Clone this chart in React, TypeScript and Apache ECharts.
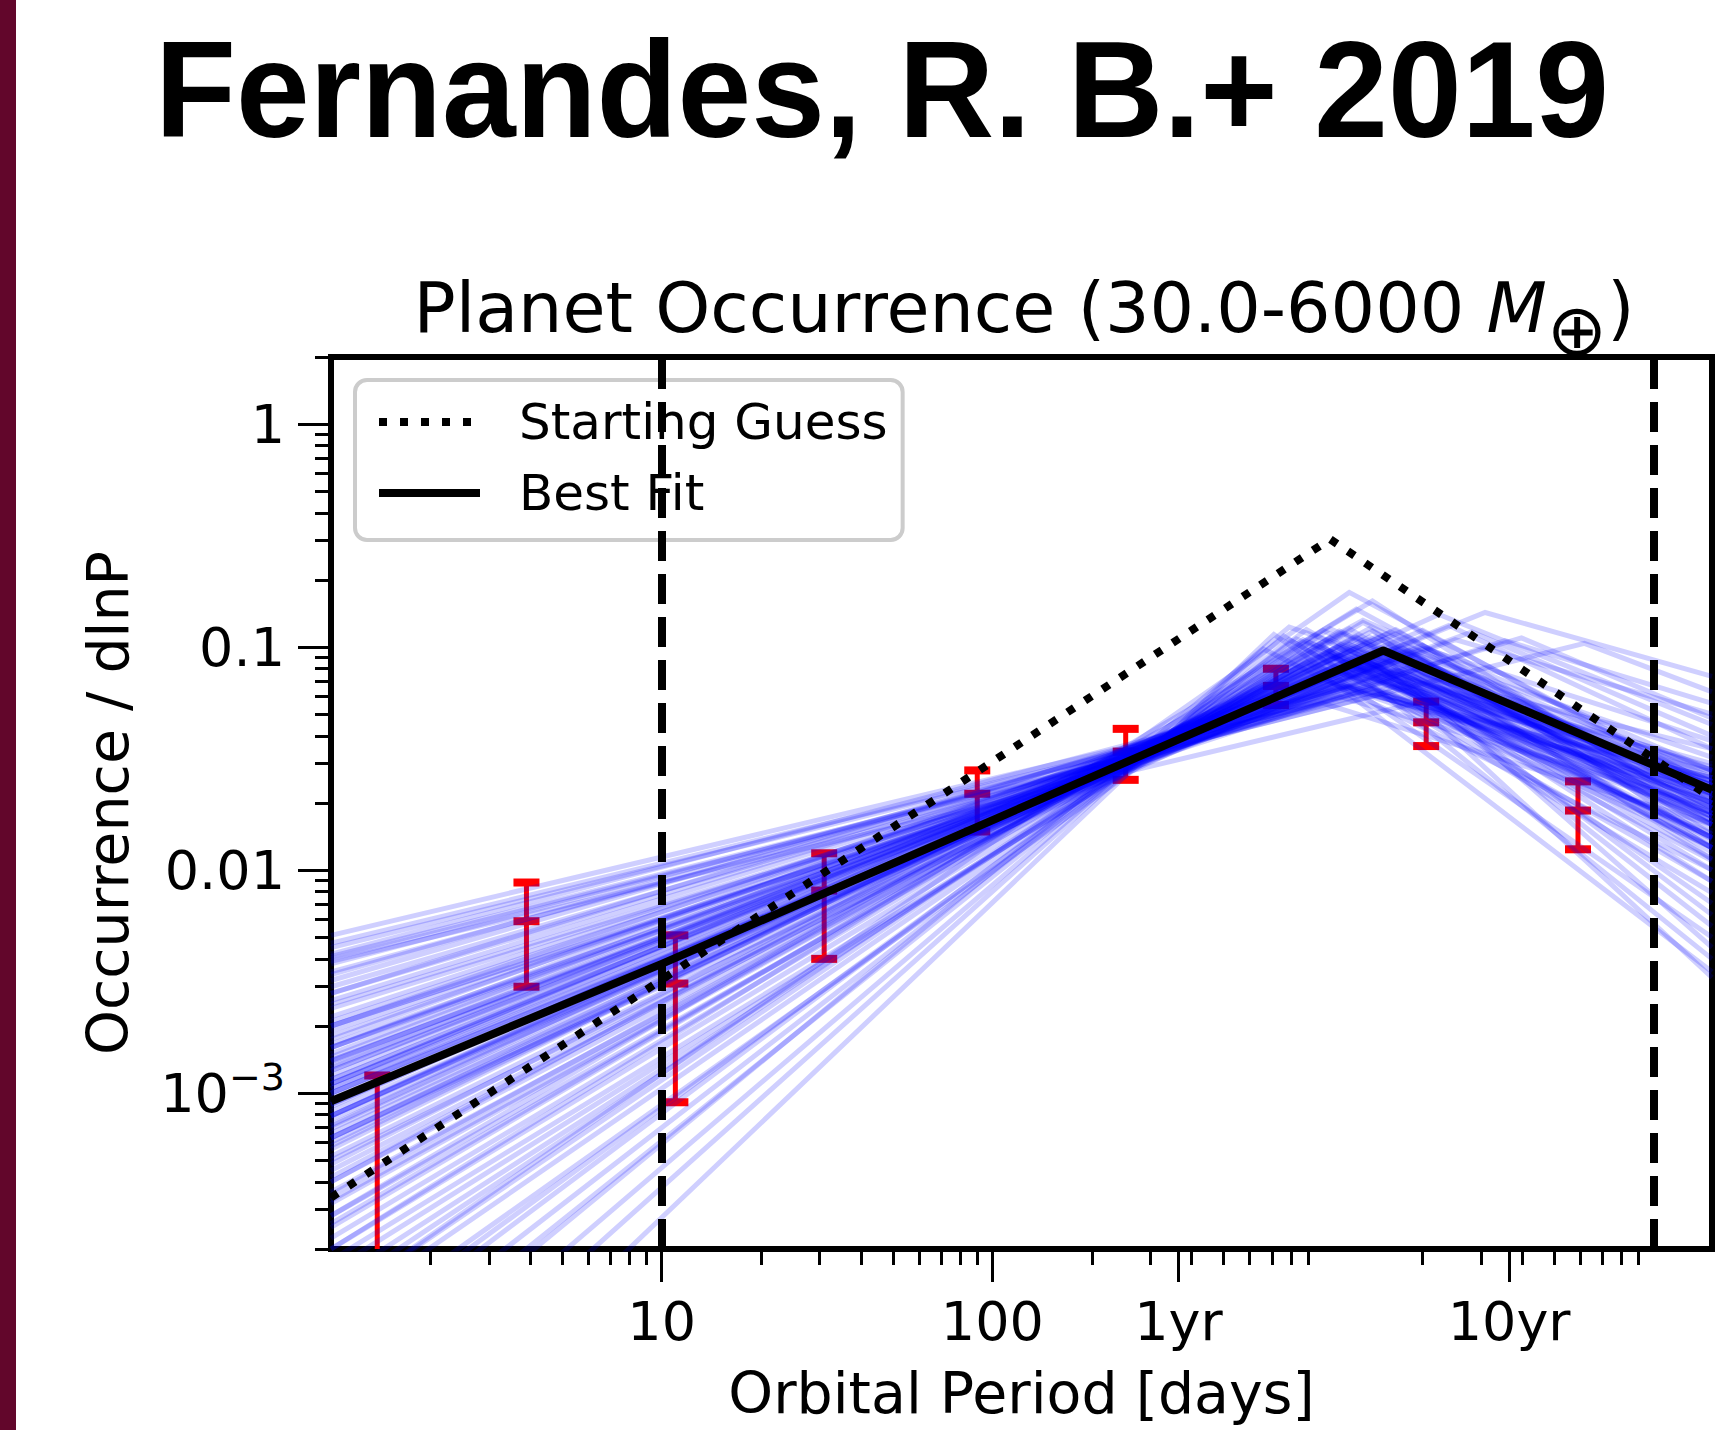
import React, { useEffect, useRef } from 'react';
import * as echarts from 'echarts';

// ---------- axis ranges & ticks ----------
const X_MIN = 1;
const X_MAX = 15000;
const Y_MIN = 0.0002;
const Y_MAX = 2;

const xMajorTicks = [10, 100, 365.25, 3652.5];
const xMajorLabels = ['10', '100', '1yr', '10yr'];
const yMajorTicks = [1, 0.1, 0.01, 0.001];
const yMajorLabels = ['1', '0.1', '0.01', '{b|10}{s|\u22123}'];

// ---------- model curves ----------
const startGuessPeriod = [1, 1050, 15000];
const startGuessOcc = [0.00034, 0.305, 0.021];
const bestFitPeriod = [1, 10, 1520, 15000];
const bestFitOcc = [0.00092, 0.0038, 0.0966, 0.0229];

// ---------- binned occurrence with errors ----------
const binPeriod = [1.38, 3.9, 11.0, 31, 90, 253, 720, 2050, 5900];
const binOcc = [0.00012, 0.0059, 0.0031, 0.0081, 0.022, 0.034, 0.067, 0.046, 0.0185];
const binLow = [0.00001, 0.003, 0.00091, 0.004, 0.0149, 0.0254, 0.055, 0.036, 0.0124];
const binHigh = [0.0012, 0.0088, 0.0051, 0.0119, 0.028, 0.043, 0.08, 0.057, 0.025];

// ---------- period boundaries (dashed) ----------
const dividerPeriods = [10, 10000];

// ---------- posterior samples (value at P=1, break, value at P=15000) ----------
const sampleOccAtMin = [
  0.00089, 0.0013, 0.00063, 0.0016, 0.0005, 0.0011, 0.00079, 0.0014, 0.00071, 0.0018,
  0.0004, 0.002, 0.001, 0.00056, 0.00132, 0.00045, 0.0022, 0.00089, 0.0012, 0.00066,
  0.00166, 0.00035, 0.00105, 0.0025, 0.00076, 0.00032, 0.0015, 0.0006, 0.0011, 0.00083,
  0.0051, 0.0047, 0.0042, 0.0038, 0.0034, 0.003, 0.0028, 0.0035,
  0.0000107, 0.000025, 0.00005, 0.000079, 0.000112, 0.000141, 0.000178, 0.000224, 0.000282,
  0.0000355, 0.00025, 0.00016, 0.000063, 0.0000178,
  0.000112, 0.0002, 0.000282, 0.0004,
  0.00115, 0.0041, 0.0014, 0.00079, 0.002,
  0.001, 0.0039, 0.00063,
  0.0021, 0.00052, 0.00138, 0.00095, 0.00072, 0.0019, 0.00042, 0.00115, 0.00087, 0.0026,
  0.00069, 0.00126, 0.00058, 0.00174, 0.00036, 0.00105, 0.00079, 0.00145, 0.00063, 0.0024,
  0.00048, 0.0011, 0.00091, 0.0016,
  0.0045, 0.0032, 0.004,
  0.0001, 0.0002, 0.00004, 0.00026, 0.000126, 0.000071, 0.00033,
  0.0016, 0.001, 0.0028, 0.00126,
  0.00079, 0.002,
];
const sampleBreakPeriod = [
  1410, 1260, 1120, 1580, 1260, 1780, 1200, 1510, 1580, 1320,
  1050, 1660, 1900, 1410, 1380, 1200, 1120, 2000, 1000, 1510,
  1660, 955, 1320, 1445, 1740, 1000, 1260, 1120, 1150, 1820,
  1120, 1000, 1260, 1410, 1200, 1580, 1320, 1780,
  710, 760, 890, 955, 1000, 1120, 890, 1200, 1120,
  790, 1050, 1320, 830, 660,
  1200, 1260, 1410, 1320,
  3090, 6170, 2510, 2240, 3550,
  1580, 1900, 1410,
  1380, 1150, 1660, 1260, 1445, 1820, 1100, 1510, 1320, 1200,
  1580, 1000, 1380, 1740, 1200, 1445, 1050, 1320, 1660, 1260,
  1260, 2000, 1150, 1510,
  1320, 1150, 1580,
  912, 1000, 790, 1150, 1050, 870, 1380,
  2820, 2400, 3980, 2000,
  1320, 1660,
];
const sampleBreakOcc = [
  0.097, 0.086, 0.084, 0.097, 0.091, 0.097, 0.099, 0.077, 0.116, 0.075,
  0.092, 0.089, 0.093, 0.118, 0.084, 0.097, 0.067, 0.102, 0.08, 0.108,
  0.079, 0.094, 0.091, 0.066, 0.103, 0.094, 0.081, 0.092, 0.086, 0.097,
  0.06, 0.056, 0.068, 0.065, 0.067, 0.071, 0.076, 0.069,
  0.114, 0.112, 0.12, 0.107, 0.119, 0.118, 0.086, 0.121, 0.101,
  0.123, 0.11, 0.129, 0.109, 0.098,
  0.176, 0.148, 0.161, 0.132,
  0.143, 0.104, 0.108, 0.14, 0.107,
  0.086, 0.056, 0.087,
  0.073, 0.092, 0.095, 0.08, 0.111, 0.081, 0.1, 0.09, 0.102, 0.066,
  0.1, 0.071, 0.111, 0.099, 0.103, 0.08, 0.08, 0.087, 0.12, 0.063,
  0.111, 0.119, 0.079, 0.076,
  0.062, 0.067, 0.063,
  0.105, 0.1, 0.108, 0.115, 0.121, 0.108, 0.121,
  0.117, 0.125, 0.11, 0.099,
  0.087, 0.072,
];
const sampleOccAtMax = [
  0.022, 0.025, 0.0166, 0.028, 0.014, 0.02, 0.024, 0.018, 0.021, 0.026,
  0.0126, 0.019, 0.032, 0.015, 0.035, 0.02, 0.023, 0.013, 0.0275, 0.0112,
  0.0214, 0.024, 0.0174, 0.018, 0.026, 0.019, 0.0138, 0.022, 0.03, 0.0145,
  0.019, 0.016, 0.022, 0.0126, 0.025, 0.018, 0.014, 0.0063,
  0.005, 0.0079, 0.0112, 0.004, 0.016, 0.025, 0.0035, 0.0126, 0.018,
  0.028, 0.01, 0.021, 0.014, 0.01,
  0.024, 0.02, 0.0166, 0.028,
  0.074, 0.063, 0.05, 0.045, 0.056,
  0.0045, 0.0033, 0.0056,
  0.02, 0.024, 0.0166, 0.0275, 0.019, 0.023, 0.016, 0.012, 0.025, 0.021,
  0.0174, 0.026, 0.022, 0.0138, 0.02, 0.029, 0.0145, 0.024, 0.018, 0.026,
  0.0126, 0.023, 0.02, 0.016,
  0.0174, 0.022, 0.011,
  0.0174, 0.0126, 0.0089, 0.023, 0.019, 0.014, 0.016,
  0.04, 0.035, 0.048, 0.038,
  0.0071, 0.0089,
];

const FONT = '"DejaVu Sans", sans-serif';
const lg = (v: number) => Math.log10(v);

function minorTicks(lo: number, hi: number): number[] {
  const out: number[] = [];
  for (let k = -5; k <= 5; k++) {
    for (let m = 2; m <= 9; m++) {
      const v = m * Math.pow(10, k);
      if (v >= lo * 0.9999 && v <= hi * 1.0001) out.push(lg(v));
    }
  }
  return out;
}

function labelFor(ticks: number[], labels: string[]) {
  return (v: number) => {
    const i = ticks.findIndex((t) => Math.abs(lg(t) - v) < 1e-6);
    return i >= 0 ? labels[i] : '';
  };
}

function buildOption(): any {
  const tickLine = { color: '#000', width: 3 };

  const sampleSeries = sampleOccAtMin.map((v0, i) => ({
    name: 'posterior sample ' + (i + 1),
    type: 'line',
    xAxisIndex: 0,
    yAxisIndex: 0,
    symbol: 'none',
    silent: true,
    clip: true,
    z: 3,
    lineStyle: { color: '#0000ff', width: 5, opacity: 0.19, join: 'miter' },
    emphasis: { disabled: true },
    data: [
      [lg(X_MIN), lg(v0)],
      [lg(sampleBreakPeriod[i]), lg(sampleBreakOcc[i])],
      [lg(X_MAX), lg(sampleOccAtMax[i])],
    ],
  }));

  return {
    animation: false,
    backgroundColor: '#ffffff',
    title: [
      {
        text: '{n|Planet Occurrence (30.0-6000 }{i|M}{s|\u2295}{n|)}',
        left: 1024,
        top: 273,
        textAlign: 'center',
        padding: 0,
        textStyle: {
          fontFamily: FONT,
          fontSize: 70,
          fontWeight: 'normal',
          color: '#000',
          rich: {
            n: { fontFamily: FONT, fontSize: 70, lineHeight: 70, color: '#000', verticalAlign: 'top' },
            i: { fontFamily: FONT, fontSize: 70, lineHeight: 70, fontStyle: 'italic', color: '#000', verticalAlign: 'top' },
            s: { fontFamily: FONT, fontSize: 72, lineHeight: 72, color: '#000', verticalAlign: 'top', padding: [21, 0, 0, 0] },
          },
        },
      },
    ],
    graphic: [
      { type: 'rect', left: 0, top: 0, shape: { x: 0, y: 0, width: 16, height: 1430 }, style: { fill: '#62062b' }, silent: true },
      {
        type: 'text',
        x: 882,
        y: 90,
        scaleX: 0.96,
        silent: true,
        style: {
          text: 'Fernandes, R. B.+ 2019',
          font: 'bold 138px "Liberation Sans", Arial, sans-serif',
          fill: '#000',
          align: 'center',
          verticalAlign: 'middle',
        },
      },
    ],
    legend: {
      data: ['Starting Guess', 'Best Fit'],
      orient: 'vertical',
      left: 355,
      top: 380,
      padding: [17, 15, 22, 20],
      itemWidth: 101,
      itemHeight: 20,
      itemGap: 21,
      selectedMode: false,
      backgroundColor: 'rgba(255,255,255,0.8)',
      borderColor: '#cccccc',
      borderWidth: 4,
      borderRadius: 12,
      itemStyle: { opacity: 0, borderWidth: 0 },
      lineStyle: { width: 8, type: 'inherit', cap: 'butt' },
      textStyle: { fontFamily: FONT, fontSize: 50, lineHeight: 50, color: '#000', padding: [0, 0, 0, 34] },
    },
    grid: {
      left: 331,
      top: 357,
      right: 17,
      bottom: 181,
      show: true,
      borderColor: '#000',
      borderWidth: 6,
      backgroundColor: 'transparent',
      containLabel: false,
      outerBoundsMode: 'none',
    },
    xAxis: [
      {
        type: 'value',
        min: lg(X_MIN),
        max: lg(X_MAX),
        position: 'bottom',
        axisLine: { show: false, onZero: false },
        splitLine: { show: false },
        axisTick: { show: true, customValues: xMajorTicks.map(lg), length: 33, lineStyle: tickLine },
        axisLabel: {
          show: true,
          customValues: xMajorTicks.map(lg),
          formatter: labelFor(xMajorTicks, xMajorLabels),
          fontFamily: FONT,
          fontSize: 54,
          color: '#000',
          margin: 45,
        },
        name: 'Orbital Period [days]',
        nameLocation: 'middle',
        nameGap: 115,
        nameTextStyle: { fontFamily: FONT, fontSize: 57, color: '#000' },
      },
      {
        type: 'value',
        min: lg(X_MIN),
        max: lg(X_MAX),
        position: 'bottom',
        axisLine: { show: false, onZero: false },
        splitLine: { show: false },
        axisLabel: { show: false },
        axisTick: { show: true, customValues: minorTicks(X_MIN, X_MAX), length: 16, lineStyle: tickLine },
      },
    ],
    yAxis: [
      {
        type: 'value',
        min: lg(Y_MIN),
        max: lg(Y_MAX),
        position: 'left',
        axisLine: { show: false, onZero: false },
        splitLine: { show: false },
        axisTick: { show: true, customValues: yMajorTicks.map(lg), length: 33, lineStyle: tickLine },
        axisLabel: {
          show: true,
          customValues: yMajorTicks.map(lg),
          formatter: labelFor(yMajorTicks, yMajorLabels),
          fontFamily: FONT,
          fontSize: 54,
          color: '#000',
          margin: 46,
          rich: {
            b: { fontFamily: FONT, fontSize: 54, color: '#000' },
            s: { fontFamily: FONT, fontSize: 38, color: '#000', padding: [0, 0, 32, 0] },
          },
        },
        name: 'Occurrence / dlnP',
        nameLocation: 'middle',
        nameRotate: 90,
        nameGap: 195,
        nameTextStyle: { fontFamily: FONT, fontSize: 57, color: '#000' },
      },
      {
        type: 'value',
        min: lg(Y_MIN),
        max: lg(Y_MAX),
        position: 'left',
        axisLine: { show: false, onZero: false },
        splitLine: { show: false },
        axisLabel: { show: false },
        axisTick: { show: true, customValues: minorTicks(Y_MIN, Y_MAX), length: 16, lineStyle: tickLine },
      },
    ],
    series: [
      {
        name: 'Binned occurrence',
        type: 'custom',
        xAxisIndex: 0,
        yAxisIndex: 0,
        clip: true,
        silent: true,
        z: 2,
        dimensions: ['logP', 'lo', 'mid', 'hi'],
        encode: { x: 0, y: [1, 2, 3] },
        data: binPeriod.map((p, i) => [lg(p), lg(binLow[i]), lg(binOcc[i]), lg(binHigh[i])]),
        renderItem: (params: any, api: any) => {
          const x = api.value(0);
          const lo = api.coord([x, api.value(1)]);
          const mid = api.coord([x, api.value(2)]);
          const hi = api.coord([x, api.value(3)]);
          const half = 13;
          const red = '#ff0000';
          const cap = { stroke: red, lineWidth: 8 };
          const capAt = (pt: number[]) => ({
            type: 'line',
            shape: { x1: pt[0] - half, y1: pt[1], x2: pt[0] + half, y2: pt[1] },
            style: cap,
          });
          return {
            type: 'group',
            children: [
              { type: 'line', shape: { x1: lo[0], y1: lo[1], x2: hi[0], y2: hi[1] }, style: { stroke: red, lineWidth: 5 } },
              capAt(hi),
              capAt(lo),
              capAt(mid),
            ],
          };
        },
      },
      ...sampleSeries,
      {
        name: 'Starting Guess',
        type: 'line',
        symbol: 'none',
        silent: true,
        clip: true,
        z: 5,
        color: '#000',
        lineStyle: { color: '#000', width: 8, type: [8, 13], cap: 'butt' },
        data: startGuessPeriod.map((p, i) => [lg(p), lg(startGuessOcc[i])]),
      },
      {
        name: 'Best Fit',
        type: 'line',
        symbol: 'none',
        silent: true,
        clip: true,
        z: 5,
        color: '#000',
        lineStyle: { color: '#000', width: 8, join: 'round' },
        data: bestFitPeriod.map((p, i) => [lg(p), lg(bestFitOcc[i])]),
        markLine: {
          silent: true,
          symbol: ['none', 'none'],
          animation: false,
          label: { show: false },
          emphasis: { disabled: true },
          lineStyle: { color: '#000', width: 8, type: [30, 13] },
          data: dividerPeriods.map((p) => ({ xAxis: lg(p) })),
        },
      },
    ],
  };
}

export default function App() {
  const ref = useRef<HTMLDivElement>(null);
  useEffect(() => {
    document.body.style.margin = '0';
    const chart = echarts.init(ref.current!, null, { renderer: 'svg' });
    chart.setOption(buildOption());
    return () => chart.dispose();
  }, []);
  return <div ref={ref} style={{ width: 1729, height: 1430 }} />;
}
